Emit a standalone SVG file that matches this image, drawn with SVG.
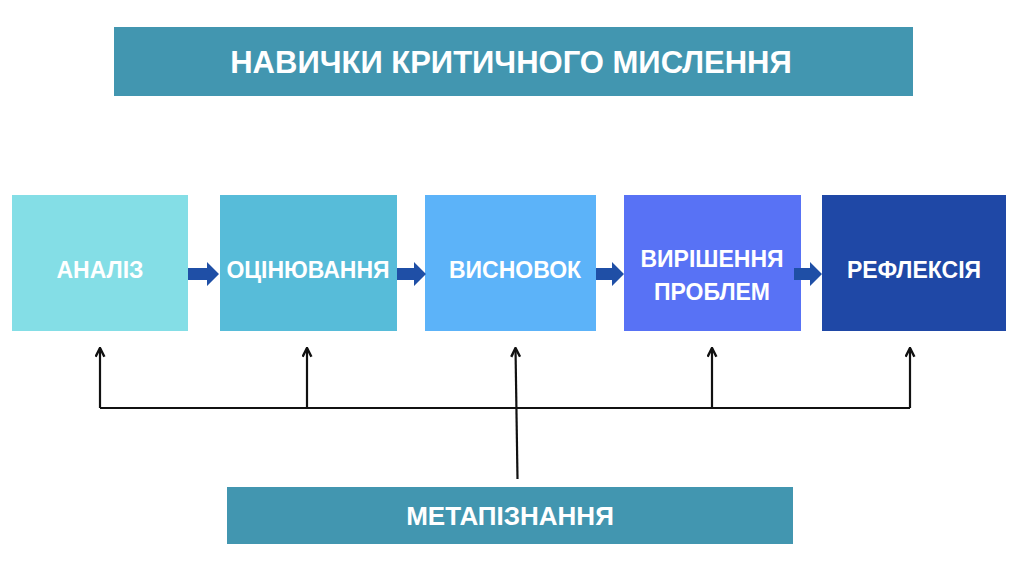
<svg xmlns="http://www.w3.org/2000/svg" width="1024" height="567" viewBox="0 0 1024 567">
<defs>
<style>
.t{font-family:"Liberation Sans",Arial,sans-serif;font-weight:bold;fill:#fff;text-anchor:middle;dominant-baseline:central}
.n{font-size:23px}
.ln{stroke:#111;stroke-width:2.2;fill:none}
.ba{fill:#1F4FA6}
</style>
<marker id="ah" viewBox="0 0 10 10" refX="9" refY="5" markerWidth="5" markerHeight="5" orient="auto">
<path d="M1,1 L9,5 L1,9" fill="none" stroke="#111" stroke-width="2.2"/>
</marker>
</defs>
<rect width="1024" height="567" fill="#fff"/>
<g id="title">
<rect x="114" y="27" width="799" height="69" fill="#4296B0"/>
<text class="t" x="511" y="62" font-size="31">НАВИЧКИ КРИТИЧНОГО МИСЛЕННЯ</text>
</g>
<g id="analiz">
<rect x="12" y="195" width="176" height="136" fill="#84DEE6"/>
<text class="t n" x="100" y="270">АНАЛІЗ</text>
</g>
<g id="otsiniuvannia">
<rect x="220" y="195" width="177" height="136" fill="#57BCD9"/>
<text class="t n" x="308" y="270">ОЦІНЮВАННЯ</text>
</g>
<g id="vysnovok">
<rect x="425" y="195" width="171" height="136" fill="#5CB3F9"/>
<text class="t n" x="515" y="270">ВИСНОВОК</text>
</g>
<g id="vyrishennia">
<rect x="624" y="195" width="177" height="136" fill="#5872F5"/>
<text class="t n" x="712" y="259">ВИРІШЕННЯ</text>
<text class="t n" x="712" y="292">ПРОБЛЕМ</text>
</g>
<g id="refleksiia">
<rect x="822" y="195" width="184" height="136" fill="#1F48A6"/>
<text class="t n" x="914" y="270">РЕФЛЕКСІЯ</text>
</g>
<g id="metapiznannia">
<rect x="227" y="487" width="566" height="57" fill="#4296B0"/>
<text class="t" x="510" y="516" font-size="26">МЕТАПІЗНАННЯ</text>
</g>
<g id="connectors">
<path class="ba" d="M188,268 H207 V262 L219,274 L207,286 V280 H188 Z"/>
<path class="ba" d="M397,268 H414 V262 L426,274 L414,286 V280 H397 Z"/>
<path class="ba" d="M596,268 H612 V262 L624,274 L612,286 V280 H596 Z"/>
<path class="ba" d="M794,268 H810 V262 L822,274 L810,286 V280 H794 Z"/>
<path class="ln" d="M100,408 H910"/>
<path class="ln" d="M100,408 V348" marker-end="url(#ah)"/>
<path class="ln" d="M307,408 V348" marker-end="url(#ah)"/>
<path class="ln" d="M712,408 V348" marker-end="url(#ah)"/>
<path class="ln" d="M910,408 V348" marker-end="url(#ah)"/>
<path class="ln" d="M517.5,479 L515.5,348" marker-end="url(#ah)"/>
</g>
</svg>
